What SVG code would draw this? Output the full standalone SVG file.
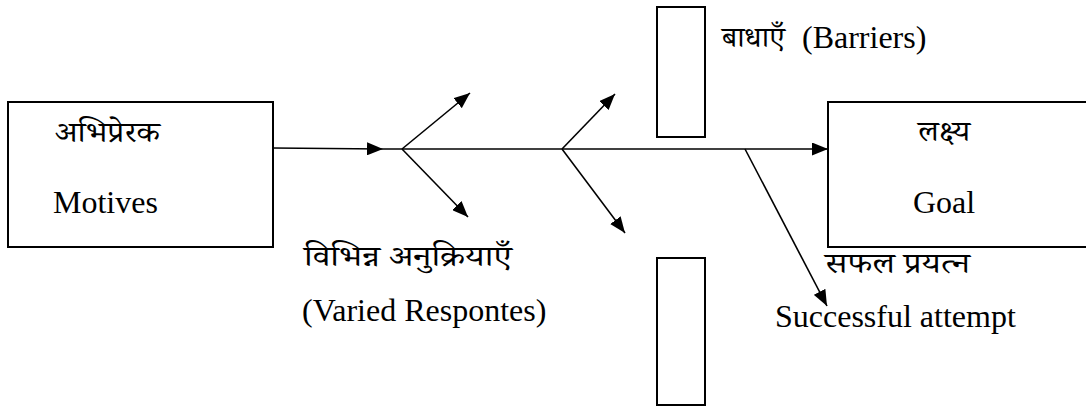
<svg xmlns="http://www.w3.org/2000/svg" width="1086" height="406" viewBox="0 0 1086 406">
<style>
.box{fill:#fff;stroke:#000;stroke-width:2}
.ln{stroke:#000;stroke-width:1.6;fill:none}
.t{font-family:"Liberation Serif","Times New Roman",serif;font-size:32px;fill:#000}
.h{font-family:"Noto Serif Devanagari","Noto Sans Devanagari","Liberation Serif",serif;font-size:29px;fill:#000}
</style>
<defs>
<marker id="ah" markerWidth="16" markerHeight="13" refX="16" refY="6.5" orient="auto" markerUnits="userSpaceOnUse">
<path d="M0,0 L16,6.5 L0,13 Z" fill="#000"/>
</marker>
</defs>
<g id="motives">
<rect class="box" x="8" y="102" width="265" height="145"/>
<text class="h" x="55" y="142" textLength="105" lengthAdjust="spacingAndGlyphs">अभिप्रेरक</text>
<text class="t" x="53" y="213">Motives</text>
</g>
<g id="goal">
<rect class="box" x="828" y="102" width="270" height="145"/>
<text class="h" x="918" y="141" textLength="52" lengthAdjust="spacingAndGlyphs">लक्ष्य</text>
<text class="t" x="913" y="213">Goal</text>
</g>
<g id="barrier-top">
<rect class="box" x="657" y="7" width="48" height="130"/>
<text class="h" x="722" y="47" textLength="63" lengthAdjust="spacingAndGlyphs">बाधाएँ</text>
<text class="t" x="802" y="48">(Barriers)</text>
</g>
<g id="barrier-bottom">
<rect class="box" x="657" y="258" width="48" height="147"/>
</g>
<g id="labels">
<text class="h" x="304" y="266" textLength="208" lengthAdjust="spacingAndGlyphs">विभिन्न अनुक्रियाएँ</text>
<text class="t" x="302" y="321">(Varied Respontes)</text>
<text class="h" x="825" y="273" textLength="145" lengthAdjust="spacingAndGlyphs">सफल प्रयत्न</text>
<text class="t" x="775" y="327">Successful attempt</text>
</g>
<g id="connectors">
<line class="ln" x1="273" y1="148" x2="383" y2="149" marker-end="url(#ah)"/>
<line class="ln" x1="383" y1="149" x2="828" y2="149" marker-end="url(#ah)"/>
<line class="ln" x1="402" y1="149" x2="470" y2="93" marker-end="url(#ah)"/>
<line class="ln" x1="402" y1="149" x2="468" y2="217" marker-end="url(#ah)"/>
<line class="ln" x1="562" y1="149" x2="615" y2="94" marker-end="url(#ah)"/>
<line class="ln" x1="562" y1="149" x2="625" y2="233" marker-end="url(#ah)"/>
<line class="ln" x1="745" y1="149" x2="827" y2="306" marker-end="url(#ah)"/>
</g>
</svg>
